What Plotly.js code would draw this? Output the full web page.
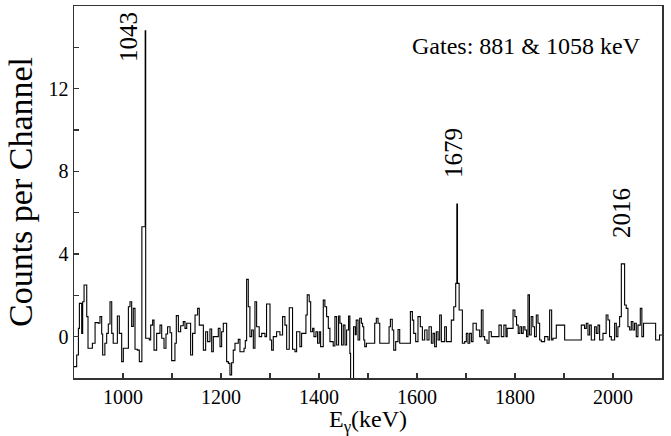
<!DOCTYPE html>
<html>
<head>
<meta charset="utf-8">
<script src="https://cdn.plot.ly/plotly-3.0.1.min.js"></script>
<style>html,body{margin:0;padding:0;background:#fff;}#chart{width:671px;height:436px;}</style>
</head>
<body>
<div id="chart"></div>
<script>
// Gamma-ray energy at the start of each step (keV)
const energy = [
900,905.5,909,911,915.7,917.7,920.5,926,928.6,937.5,943,949.7,953,956.5,958.5,963,966.7,970,973.5,977,980,988.5,992.5,997.3,
1000.7,1011,1014.3,1017.7,1021,1024.5,1029.3,1033.3,1038.5,1045.3,1046.3,1053.7,1056.5,1060.5,1063.3,1068.7,1075.5,1079,1083.7,1087.7,1091,1096,1099.3,
1106,1108.8,1113,1117.7,1123,1126.5,1130,1138,1142,1147,1152.3,1155.7,1164,1168.7,1172.7,1177.5,1181,1184.3,1194.5,1198,
1201.3,1204.7,1211.5,1215,1218.3,1221.7,1225,1228.5,1235.3,1238.7,1247,1249.6,1252.3,1255.7,1259,1262.5,1266,1269.3,1272.7,1278,1283,1289.7,1293,
1300,1303.3,1306.7,1313.5,1320.3,1325.7,1330.5,1334,1339.3,1346,1351,1354.3,1361,1364.5,1373.3,1376,1380,1383,1387,1389.7,1393.7,1397,
1400.5,1403.3,1408.7,1412,1415.5,1419,1422.3,1429,1432.5,1436,1440,1442.7,1446,1449.5,1453,1456.3,1460.4,1463,1464.5,1470.5,1474,1476,1479.7,1483,1486.5,1489,1491.3,1493.3,1496.7,
1513.7,1517,1520.5,1524,1543,1545.7,1549.5,1552.5,1556.5,1561.3,1564.7,1586.5,1590.5,1593.3,1597.3,
1602,1606.8,1611,1615.7,1620.5,1624.5,1629.3,1632.7,1636,1639.5,1643,1646.3,1649.7,1656.5,1660,1670,1675,1679,1681.3,1682.6,1686,1692.6,1697.3,
1700.7,1704,1707.5,1711,1714.3,1721,1727.9,1731.3,1734.7,1738,1743,1747,1751.7,1767.3,1772,1777.3,1781.5,1784,1796,1799.8,
1803.2,1806.6,1810,1813.4,1816.8,1820.2,1823.6,1826.5,1829.5,1833,1836.4,1839.8,1843.5,1846.9,1850.3,1853.7,1860.5,1867.3,1870.7,1874.8,1877.5,1884.3,
1901.3,1935.3,1942,1945.5,1948.9,1952.3,1955.7,1962.5,1965.9,1969.3,1972.7,1979.5,1986,1989.7,1993,1996.5,
2003.3,2006.7,2010,2013.5,2017,2023.7,2027,2030.5,2034,2037.3,2040.7,2044,2047.5,2050.9,2055.7,2058.9,2062.3,2087,2095,2100
];
// Counts per channel for each step
const counts = [
-1.45,-0.89,0.40,1.61,0.16,1.69,2.50,0.97,-0.56,-0.32,0.68,0.65,0.97,0.13,-0.89,-0.32,0.16,0.61,1.69,0.16,-0.32,1.0,0.16,-1.21,
-0.56,1.45,1.69,0.5,1.37,-0.61,-0.65,-1.21,5.32,14.8,-0.08,-0.16,0.56,0.8,-0.65,0.16,0.56,-0.08,-0.56,0.13,0.48,0.19,-1.16,
-0.32,1.02,0.24,0.53,0.73,0.40,0.65,-0.89,0.16,1.05,1.37,0.56,-0.65,0.24,-0.24,0.37,-0.73,0,0.40,-0.48,
0.24,0.65,-1.21,-1.29,-1.85,-1.26,-0.65,-0.32,-0.13,-0.73,-0.56,-0.19,2.77,1.45,0,0.32,-0.56,1.69,0.48,0,0.16,0,1.58,
-0.16,-0.65,0,0.24,0.08,0.97,0.56,-0.61,1.40,-0.61,-0.73,0.24,-0.48,0.16,1.05,2.02,1.69,0.24,0.40,0,0.24,-0.32,
0.24,-0.48,1.77,1.45,0.97,0.40,-0.24,-0.45,0.97,-0.40,1.0,0.65,-0.40,0.56,-0.40,0.32,1.0,-0.81,-3.0,0.48,0.1,0.8,-0.16,0.89,0.65,0.48,-0.16,-0.48,-0.32,
0.65,0.89,0.65,-0.32,0.48,0.84,0.32,-0.65,-0.24,0.35,-0.32,1.21,0.8,0.16,-0.24,
0.97,0.48,-0.16,0.32,-0.16,0.48,-0.32,0.16,-0.48,0.24,-0.16,1.05,-0.24,0.48,-0.24,0.8,1.45,2.58,6.42,2.58,1.29,-0.32,-0.24,
0.16,-0.32,0.16,-0.24,0.65,0.32,0,1.29,0,-0.16,-0.32,0.24,0,0.56,0,0.56,0,0.4,1.29,0.97,
0.56,0.16,0.48,0.16,0.48,0.32,0,2.02,0.08,0.97,0.48,0,1.05,0.65,-0.16,-0.24,0,-0.16,1.29,-0.16,-0.08,0.56,
-0.16,0.56,0.40,0.65,0.08,0.56,-0.16,0.48,0.16,0.56,-0.16,0.16,1.05,0.81,0,-0.16,
0.65,0,0.48,0.97,3.52,1.53,1.37,0.48,0.32,0.73,0.32,0.65,0,0.56,1.37,0,0.65,-0.16,0.08,0.08
];
// Peak labels
const peakLabels = ['1043', '1679', '2016'];
const peakEnergies = [1043, 1679, 2016];
const gateText = 'Gates: 881 &amp; 1058 keV';
const xTickVals = [1000, 1200, 1400, 1600, 1800, 2000];
const yTickVals = [0, 4, 8, 12];

const serif = 'Liberation Serif';

function peakHeight(e) {
  let m = -Infinity;
  for (let i = 0; i < energy.length; i++) {
    if (Math.abs(energy[i] - e) <= 8) m = Math.max(m, counts[i]);
  }
  return m;
}
const labelStyle = [
  {dy: -1.6, xshift: -15},
  {dy: 1.15, xshift: -2},
  {dy: 1.15, xshift: 0}
];
const annotations = peakLabels.map((t, i) => ({
  x: peakEnergies[i], y: peakHeight(peakEnergies[i]) + labelStyle[i].dy,
  xref: 'x', yref: 'y', text: t, showarrow: false, textangle: -90,
  xanchor: 'center', yanchor: 'bottom', xshift: labelStyle[i].xshift,
  font: {family: serif, size: 25, color: '#000'}
}));
annotations.push({
  x: 0.968, y: 0.892, xref: 'paper', yref: 'paper', text: gateText,
  showarrow: false, xanchor: 'right', yanchor: 'middle',
  font: {family: serif, size: 24, color: '#000'}
});

const trace = {
  x: energy, y: counts, type: 'scatter', mode: 'lines',
  line: {shape: 'hv', color: '#000', width: 1.1},
  hoverinfo: 'skip'
};

function axisCommon() {
  return {
    showline: true, mirror: true, linecolor: '#333', linewidth: 1.5,
    ticks: 'inside', ticklen: 5, tickwidth: 1.2, tickcolor: '#333',
    showgrid: false, zeroline: false,
    tickfont: {family: serif, size: 20, color: '#000'}
  };
}

const layout = {
  width: 671, height: 436,
  margin: {l: 74, r: 9, t: 6, b: 58},
  paper_bgcolor: '#fff', plot_bgcolor: '#fff',
  font: {family: serif, color: '#000'},
  showlegend: false,
  xaxis: Object.assign(axisCommon(), {
    range: [900, 2100], tickvals: xTickVals,
    minor: {dtick: 100, ticks: 'inside', ticklen: 5, tickcolor: '#333', showgrid: false},
    title: {text: 'E<sub>γ</sub>(keV)', font: {family: serif, size: 24, color: '#000'}, standoff: 2}
  }),
  yaxis: Object.assign(axisCommon(), {
    range: [-2, 16], tickvals: yTickVals,
    minor: {dtick: 2, ticks: 'inside', ticklen: 5, tickcolor: '#333', showgrid: false},
    title: {text: 'Counts per Channel', font: {family: serif, size: 34, color: '#000'}, standoff: 5}
  }),
  annotations: annotations
};

Plotly.newPlot('chart', [trace], layout, {staticPlot: true, displayModeBar: false});
</script>
</body>
</html>
